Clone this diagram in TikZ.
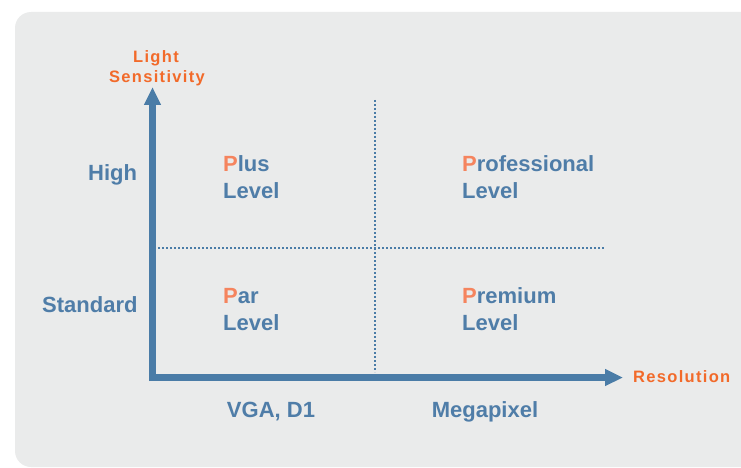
\documentclass[tikz,border=0pt]{standalone}
\usepackage{fontspec}
\setmainfont{Liberation Sans}
\newfontfamily\spacedfont[LetterSpace=8]{Liberation Sans}
\usetikzlibrary{arrows.meta}
\definecolor{panel}{HTML}{EAEBEB}
\definecolor{axisblue}{HTML}{4A7CA7}
\definecolor{txtblue}{HTML}{4F7DA8}
\definecolor{axorange}{HTML}{F26A2A}
\definecolor{porange}{HTML}{F5845E}
\tikzset{
  axisline/.style={draw=axisblue, line width=7pt, -{Triangle[width=16pt,length=18pt]}},
  divider/.style={draw=axisblue, line width=1.6pt, dash pattern=on 1.6pt off 2.4pt},
  axlabel/.style={inner sep=0pt, text=axorange, font=\spacedfont\bfseries\fontsize{16.5}{20}\selectfont},
  cat/.style={inner sep=0pt, text=txtblue, font=\bfseries\fontsize{22}{26.6}\selectfont},
}
\newcommand{\hp}{\textcolor{porange}{P}}
\begin{document}
\begin{tikzpicture}[x=1pt,y=-1pt]
\useasboundingbox (0,0) rectangle (741,468);
\fill[panel, rounded corners=16pt] (15,12) rectangle (780,467);
% axes
\coordinate (origin) at (149,377.5);
\coordinate (ytip) at (152.5,87);
\coordinate (xtip) at (623,377.5);
\draw[axisline] (152.5,381) -- (ytip);
\draw[axisline] (origin) -- (xtip);
% dividers
\coordinate (vtop) at (375,100);
\coordinate (vbot) at (375,372);
\coordinate (hl) at (158,248);
\coordinate (hr) at (605,248);
\draw[divider] (vtop) -- (vbot);
\draw[divider] (hl) -- (hr);
% axis labels
\node[axlabel, anchor=base] (light) at (156,62.7) {Light};
\node[axlabel, anchor=base] (sens) at (157,82.7) {Sensitivity};
\node[axlabel, anchor=base west] (res) at (633,382.3) {Resolution};
% categories
\node[cat, anchor=base west] (high) at (88,180.7) {High};
\node[cat, anchor=base west] (std) at (42,312) {Standard};
\node[cat, anchor=base] (vga) at (271,417) {VGA, D1};
\node[cat, anchor=base] (mega) at (485,417) {Megapixel};
% quadrants
\node[cat, anchor=base west] (plus) at (223,171.7) {\hp lus};
\node[cat, anchor=base west] (plusl) at (223,198.3) {Level};
\node[cat, anchor=base west] (prof) at (462,171.7) {\hp rofessional};
\node[cat, anchor=base west] (profl) at (462,198.3) {Level};
\node[cat, anchor=base west] (par) at (223,303.5) {\hp ar};
\node[cat, anchor=base west] (parl) at (223,330) {Level};
\node[cat, anchor=base west] (prem) at (462,303.5) {\hp remium};
\node[cat, anchor=base west] (preml) at (462,330) {Level};
\end{tikzpicture}
\end{document}
